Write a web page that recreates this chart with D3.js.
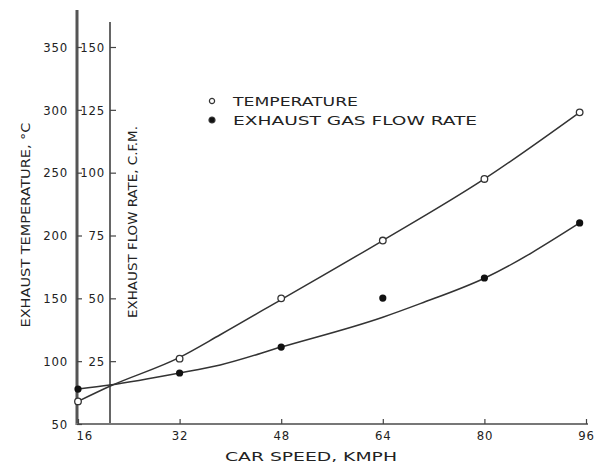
<!DOCTYPE html>
<html>
<head>
<meta charset="utf-8">
<script src="https://cdn.jsdelivr.net/npm/d3@7"></script>
<style>
  html, body { margin: 0; padding: 0; background: #fff; }
  svg { display: block; }
  text { font-family: "Liberation Sans Narrow", "DejaVu Sans Condensed", sans-serif; fill: #222; }
</style>
</head>
<body>
<svg id="chart"></svg>
<script>
// car speed (km/h) where readings were taken
const speeds = [16, 32, 48, 64, 80, 95];
// exhaust temperature readings, deg C (open circles)
const temperature = [68, 102, 150, 196, 245, 298];
// exhaust gas flow readings, CFM (filled dots)
const flowRate = [13.9, 20.3, 30.6, 50.1, 58.1, 80];

// hand-drawn fitted curves
const tempCurveSpeed = [16, 21, 32, 38.4, 48, 64, 80, 95];
const tempCurve = [68, 80, 103, 121, 149, 196, 245, 298];
const flowCurveSpeed = [16, 21, 32, 38.4, 48, 64, 70, 80, 95];
const flowCurve = [13.9, 15.5, 20.3, 23.5, 30.6, 42.5, 48, 58, 80];

const speedTicks = [16, 32, 48, 64, 80, 96];
const tempTicks = [50, 100, 150, 200, 250, 300, 350];
const flowTicks = [25, 50, 75, 100, 125, 150];

const legendItems = ["TEMPERATURE", "EXHAUST GAS FLOW RATE"];

const width = 595, height = 463;

const svg = d3.select("#chart")
  .attr("width", width)
  .attr("height", height);

const x = d3.scaleLinear().domain([16, 96]).range([78, 586]);
const yTemp = d3.scaleLinear().domain([50, 350]).range([424, 47]);
const yFlow = d3.scaleLinear().domain([0, 150]).range([424, 47]);

// axis lines (the two vertical ones differ in length)
svg.append("line")
  .attr("x1", 77).attr("x2", 77).attr("y1", 10).attr("y2", 425)
  .attr("stroke", "#555").attr("stroke-width", 3);
svg.append("line")
  .attr("x1", 110).attr("x2", 110).attr("y1", 22).attr("y2", 425)
  .attr("stroke", "#666").attr("stroke-width", 2);
svg.append("line")
  .attr("x1", 76).attr("x2", 588).attr("y1", 424).attr("y2", 424)
  .attr("stroke", "#777").attr("stroke-width", 2);

// temperature axis
const tempAxis = svg.append("g")
  .attr("transform", "translate(77,0)")
  .call(d3.axisLeft(yTemp).tickValues(tempTicks).tickSize(-5).tickPadding(9));

// flow axis
const flowAxis = svg.append("g")
  .attr("transform", "translate(110,0)")
  .call(d3.axisLeft(yFlow).tickValues(flowTicks).tickSize(-6).tickPadding(5));

// speed axis
const speedAxis = svg.append("g")
  .attr("transform", "translate(0,424)")
  .call(d3.axisBottom(x).tickValues(speedTicks).tickSize(-5).tickPadding(7));

[tempAxis, flowAxis, speedAxis].forEach(g => {
  g.select(".domain").remove();
  g.selectAll(".tick line").attr("stroke", "#444").attr("stroke-width", 1.2);
  g.selectAll(".tick text")
    .attr("fill", "#222")
    .style("font-size", "13px")
    .style("letter-spacing", "0.8px");
});
speedAxis.selectAll(".tick text").filter(d => d === 16).attr("text-anchor", "start").attr("dx", -2);

// axis titles
svg.append("text")
  .attr("transform", "translate(30,225) rotate(-90)")
  .attr("text-anchor", "middle")
  .attr("textLength", 205).attr("lengthAdjust", "spacingAndGlyphs")
  .style("font-size", "13px")
  .text("EXHAUST TEMPERATURE, °C");

svg.append("text")
  .attr("transform", "translate(137,222) rotate(-90)")
  .attr("text-anchor", "middle")
  .attr("textLength", 192).attr("lengthAdjust", "spacingAndGlyphs")
  .style("font-size", "13px")
  .text("EXHAUST FLOW RATE, C.F.M.");

svg.append("text")
  .attr("x", 311).attr("y", 461)
  .attr("text-anchor", "middle")
  .attr("textLength", 172).attr("lengthAdjust", "spacingAndGlyphs")
  .style("font-size", "12px")
  .text("CAR SPEED, KMPH");

// fitted curves
const tempLine = d3.line()
  .x((d, i) => x(tempCurveSpeed[i]))
  .y(d => yTemp(d))
  .curve(d3.curveMonotoneX);
const flowLine = d3.line()
  .x((d, i) => x(flowCurveSpeed[i]))
  .y(d => yFlow(d))
  .curve(d3.curveMonotoneX);

svg.append("path")
  .datum(tempCurve)
  .attr("d", tempLine)
  .attr("fill", "none").attr("stroke", "#333").attr("stroke-width", 1.5);
svg.append("path")
  .datum(flowCurve)
  .attr("d", flowLine)
  .attr("fill", "none").attr("stroke", "#333").attr("stroke-width", 1.5);

// measured points
svg.append("g").selectAll("circle")
  .data(temperature)
  .enter()
  .append("circle")
  .attr("cx", (d, i) => x(speeds[i]))
  .attr("cy", d => yTemp(d))
  .attr("r", 3.3)
  .attr("fill", "#fff").attr("stroke", "#333").attr("stroke-width", 1.3);

svg.append("g").selectAll("circle")
  .data(flowRate)
  .enter()
  .append("circle")
  .attr("cx", (d, i) => x(speeds[i]))
  .attr("cy", d => yFlow(d))
  .attr("r", 3.6)
  .attr("fill", "#111");

// legend
const legend = svg.append("g").attr("transform", "translate(212,101)");
legendItems.forEach((label, i) => {
  const row = legend.append("g").attr("transform", `translate(0,${i * 19})`);
  row.append("circle")
    .attr("r", i === 0 ? 2.6 : 3)
    .attr("fill", i === 0 ? "#fff" : "#111")
    .attr("stroke", "#333").attr("stroke-width", 1.2);
  row.append("text")
    .attr("x", 21).attr("y", 5)
    .attr("textLength", i === 0 ? 125 : 244).attr("lengthAdjust", "spacingAndGlyphs")
    .style("font-size", "13px")
    .text(label);
});
</script>
</body>
</html>
